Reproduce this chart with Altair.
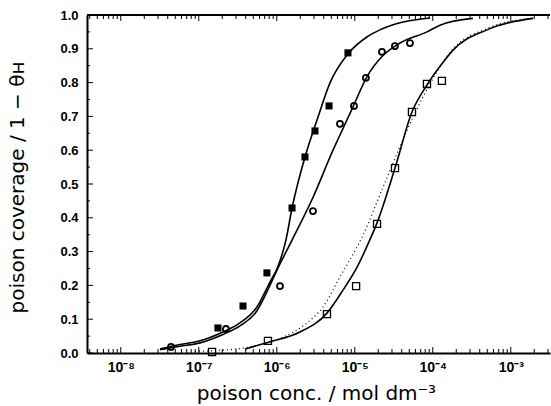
import altair as alt
import pandas as pd

# ---------------- data ----------------
# filled squares
fsq_c = [1.76e-7, 3.69e-7, 7.48e-7, 1.57e-6, 2.30e-6, 3.09e-6, 4.68e-6, 8.18e-6]
fsq_y = [0.074, 0.139, 0.237, 0.429, 0.580, 0.657, 0.731, 0.888]
# open circles
cir_c = [4.41e-8, 2.23e-7, 1.10e-6, 2.91e-6, 6.46e-6, 9.77e-6, 1.39e-5, 2.23e-5, 3.27e-5, 5.10e-5]
cir_y = [0.018, 0.071, 0.198, 0.420, 0.678, 0.731, 0.814, 0.891, 0.908, 0.917]
# open squares
osq_c = [1.48e-7, 7.71e-7, 4.40e-6, 1.04e-5, 1.93e-5, 3.28e-5, 5.41e-5, 8.43e-5, 1.31e-4]
osq_y = [0.003, 0.036, 0.115, 0.198, 0.382, 0.547, 0.713, 0.796, 0.805]

# fitted curves
c1_c = [3.18e-8, 5.74e-8, 1.04e-7, 2.04e-7, 3.37e-7, 5.57e-7, 8.18e-7, 1.01e-6, 1.31e-6,
        1.57e-6, 2.30e-6, 3.28e-6, 4.81e-6, 8.18e-6, 1.43e-5, 2.10e-5, 4.15e-5, 9.20e-5]
c1_y = [0.012, 0.025, 0.036, 0.062, 0.089, 0.136, 0.210, 0.250, 0.334,
        0.429, 0.580, 0.689, 0.799, 0.885, 0.935, 0.956, 0.979, 0.991]
c2_c = [3.18e-8, 5.74e-8, 1.04e-7, 2.04e-7, 3.37e-7, 5.57e-7, 8.18e-7, 1.01e-6, 1.57e-6,
        2.91e-6, 5.26e-6, 6.46e-6, 9.48e-6, 1.43e-5, 2.30e-5, 3.80e-5, 8.43e-5, 1.24e-4, 3.27e-4]
c2_y = [0.010, 0.020, 0.030, 0.055, 0.080, 0.125, 0.200, 0.246, 0.334,
        0.460, 0.600, 0.645, 0.728, 0.817, 0.880, 0.917, 0.950, 0.970, 0.990]
c3_c = [3.91e-7, 8.18e-7, 1.98e-6, 4.40e-6, 7.06e-6, 1.07e-5, 1.57e-5, 1.93e-5, 3.28e-5,
        5.41e-5, 8.43e-5, 1.43e-4, 1.82e-4, 4.95e-4, 1.93e-3]
c3_y = [0.012, 0.033, 0.062, 0.118, 0.186, 0.254, 0.336, 0.385, 0.547,
        0.713, 0.793, 0.867, 0.896, 0.956, 0.990]
dot_c = [8.93e-8, 2.51e-7, 6.10e-7, 1.20e-6, 2.44e-6, 3.91e-6, 6.46e-6, 1.07e-5, 1.24e-5,
         2.30e-5, 4.70e-5, 8.43e-5, 1.82e-4, 4.95e-4, 1.93e-3]
dot_y = [0.005, 0.010, 0.024, 0.047, 0.089, 0.136, 0.225, 0.314, 0.343,
         0.490, 0.660, 0.780, 0.900, 0.960, 0.991]

# axes
x_major = [1e-8, 1e-7, 1e-6, 1e-5, 1e-4, 1e-3]
x_labels = ["10⁻⁸", "10⁻⁷", "10⁻⁶", "10⁻⁵", "10⁻⁴", "10⁻³"]
y_major = [0.0, 0.1, 0.2, 0.3, 0.4, 0.5, 0.6, 0.7, 0.8, 0.9, 1.0]
y_minor = [0.05, 0.15, 0.25, 0.35, 0.45, 0.55, 0.65, 0.75, 0.85, 0.95]
x_lo, x_hi = 10 ** -8.433, 10 ** -2.497
x_minor = [m * 10.0 ** e for e in range(-9, -2) for m in range(2, 10)]
x_minor = [v for v in x_minor if x_lo <= v <= x_hi]

W, H = 463, 338
FONT = "Liberation Sans"
TFONT = "DejaVu Sans"

xscale = alt.Scale(type="log", domain=[x_lo, x_hi])
yscale = alt.Scale(domain=[0, 1])

label_expr = "[" + ",".join("'%s'" % s for s in x_labels) + "][round(log(datum.value)/LN10)+8]"

xaxis = alt.Axis(values=x_major, labelExpr=label_expr, tickSize=0, labelPadding=7,
                 labelOverlap=False, labelFont=FONT, labelFontWeight="bold", labelFontSize=14,
                 labelColor="black", domainColor="black", domainWidth=2, grid=False,
                 title="poison conc.  /  mol dm⁻³", titleFont=TFONT, titleFontSize=20,
                 titleFontWeight="normal", titleColor="black",
                 titleX=229, titleY=46, titleBaseline="alphabetic", titleAlign="center")
yaxis = alt.Axis(values=y_major, format=".1f", tickSize=0, labelPadding=9,
                 labelOverlap=False, labelFont=FONT, labelFontWeight="bold", labelFontSize=13,
                 labelColor="black", domainColor="black", domainWidth=2, grid=False,
                 title="poison coverage / 1 − θʜ", titleFont=TFONT, titleFontSize=20,
                 titleFontWeight="normal", titleColor="black", titleAngle=270,
                 titleX=-64, titleY=172, titleBaseline="alphabetic", titleAlign="center")
Xp = alt.X("c:Q", scale=xscale, axis=xaxis)
Yp = alt.Y("y:Q", scale=yscale, axis=yaxis)


def frame(c, y, name=None):
    d = pd.DataFrame({"c": c, "y": y})
    if name is not None:
        d["g"] = name
    return d


curves = pd.concat([frame(c1_c, c1_y, "a"), frame(c2_c, c2_y, "b"), frame(c3_c, c3_y, "c")])

solid = alt.Chart(curves).mark_line(color="black", strokeWidth=1.6, interpolate="monotone").encode(
    x=Xp, y=Yp, detail="g:N")
dotted = alt.Chart(frame(dot_c, dot_y)).mark_line(
    color="black", strokeWidth=1.2, strokeDash=[1, 3], interpolate="monotone").encode(x=Xp, y=Yp)

pts_f = alt.Chart(frame(fsq_c, fsq_y)).mark_point(
    shape="square", filled=True, color="black", size=50, opacity=1).encode(x=Xp, y=Yp)
pts_c = alt.Chart(frame(cir_c, cir_y)).mark_point(
    shape="circle", filled=False, color="black", size=36, strokeWidth=1.8, opacity=1).encode(x=Xp, y=Yp)
pts_s = alt.Chart(frame(osq_c, osq_y)).mark_point(
    shape="square", filled=False, color="black", size=50, strokeWidth=1.3, opacity=1).encode(x=Xp, y=Yp)

# inward ticks
xt_major = pd.DataFrame({"c": x_major})
xt_minor = pd.DataFrame({"c": x_minor})
yt_major = pd.DataFrame({"y": y_major})
yt_minor = pd.DataFrame({"y": y_minor})

tk = dict(color="black", strokeWidth=1)
t1 = alt.Chart(xt_major).mark_rule(**tk).encode(x=Xp, y=alt.value(H), y2=alt.value(H - 6))
t2 = alt.Chart(xt_minor).mark_rule(**tk).encode(x=Xp, y=alt.value(H), y2=alt.value(H - 4))
t3 = alt.Chart(xt_major).mark_rule(**tk).encode(x=Xp, y=alt.value(0), y2=alt.value(6))
t4 = alt.Chart(xt_minor).mark_rule(**tk).encode(x=Xp, y=alt.value(0), y2=alt.value(4))
t5 = alt.Chart(yt_major).mark_rule(**tk).encode(y=Yp, x=alt.value(0), x2=alt.value(6))
t6 = alt.Chart(yt_minor).mark_rule(**tk).encode(y=Yp, x=alt.value(0), x2=alt.value(3))
top = alt.Chart(xt_major.head(1)).mark_rule(color="black", strokeWidth=2).encode(
    y=alt.value(0), x=alt.value(0), x2=alt.value(W))

chart = alt.layer(solid, dotted, pts_f, pts_c, pts_s, t1, t2, t3, t4, t5, t6, top).properties(
    width=W, height=H,
    autosize=alt.AutoSizeParams(type="none"),
    padding={"left": 87, "top": 15, "right": 1, "bottom": 53},
    background="white",
).configure_view(stroke=None)

chart.save("out.html", embed_options={"renderer": "svg", "actions": False})
